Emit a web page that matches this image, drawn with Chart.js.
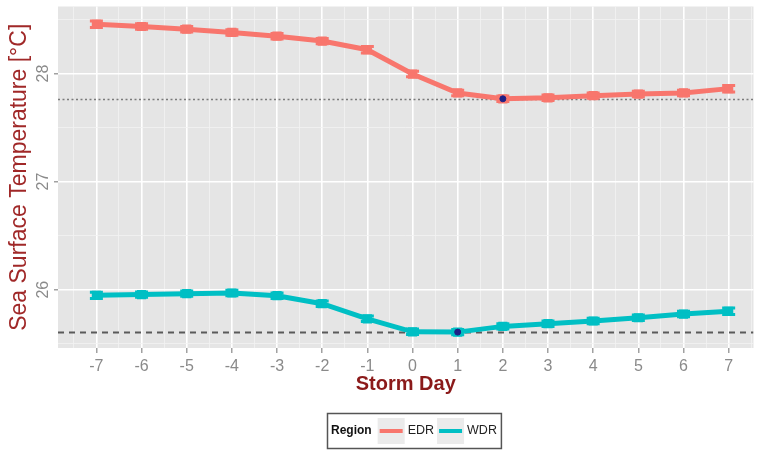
<!DOCTYPE html>
<html><head><meta charset="utf-8">
<script src="https://cdn.jsdelivr.net/npm/chart.js@4"></script>
<style>html,body{margin:0;padding:0;background:#fff}#wrap{width:760px;height:450px;position:relative}</style>
</head><body><div id="wrap"><canvas id="c" width="760" height="450"></canvas></div>
<script>
// ---- data ----
const days = [-7,-6,-5,-4,-3,-2,-1,0,1,2,3,4,5,6,7];
const edr = [28.455,28.435,28.41,28.38,28.345,28.30,28.22,27.995,27.82,27.766,27.775,27.795,27.81,27.82,27.86];
const wdr = [25.947,25.954,25.963,25.969,25.944,25.87,25.73,25.61,25.607,25.66,25.685,25.71,25.74,25.774,25.80];
const edrErr = [0.03,0.025,0.025,0.025,0.025,0.025,0.03,0.025,0.025,0.025,0.025,0.025,0.025,0.025,0.03];
const wdrErr = [0.03,0.025,0.025,0.025,0.025,0.025,0.025,0.025,0.025,0.025,0.025,0.025,0.025,0.025,0.03];
const seriesNames = ['EDR','WDR'];
const xTicks = [-7,-6,-5,-4,-3,-2,-1,0,1,2,3,4,5,6,7];
const yTicks = [26,27,28];
const legendTitle = 'Region';
const xTitle = 'Storm Day';
const yTitle = 'Sea Surface Temperature [°C]';

// ---- styles ----
const colors = ['#F8766D','#00BFC4'];
const FONT = '"Liberation Sans", Arial, Helvetica, sans-serif';
const minOf = a => Math.min(...a);
const argMin = a => a.indexOf(minOf(a));
const refLevels = [minOf(edr), minOf(wdr)];
const errs = [edrErr, wdrErr];

function lineDs(i, vals){
  return {
    type:'line', label: seriesNames[i],
    data: days.map((d,k)=>({x:d,y:vals[k]})),
    borderColor: colors[i], backgroundColor: colors[i],
    borderWidth: 5, pointStyle:'rect', pointRadius: 6.5, pointBorderWidth: 0,
    pointHoverRadius: 6.5, tension: 0, order: 1, errIndex: i
  };
}
const minDs = {
  type:'scatter', label:'min',
  data: [{x:days[argMin(edr)], y:minOf(edr)},{x:days[argMin(wdr)], y:minOf(wdr)}],
  backgroundColor:'#1f1f85', borderColor:'#1f1f85', pointRadius:3, order:0, isMin:true
};

const panelBg = {
  id:'panelBg',
  beforeDraw(chart){
    const {ctx, chartArea:a} = chart;
    ctx.save(); ctx.fillStyle = '#E5E5E5';
    ctx.fillRect(a.left, a.top, a.right-a.left, a.bottom-a.top);
    ctx.restore();
  },
  beforeDatasetsDraw(chart){
    const {ctx, chartArea:a, scales:{y}} = chart;
    ctx.save();
    ctx.beginPath(); ctx.rect(a.left,a.top,a.right-a.left,a.bottom-a.top); ctx.clip();
    const styles = [{dash:[2,2.5], w:1.6, c:'#7a7a7a'},{dash:[6,5], w:2, c:'#5a5a5a'}];
    refLevels.forEach((v,i)=>{
      const py = Math.round(y.getPixelForValue(v))+0.5;
      ctx.setLineDash(styles[i].dash); ctx.lineWidth = styles[i].w; ctx.strokeStyle = styles[i].c;
      ctx.beginPath(); ctx.moveTo(a.left, py); ctx.lineTo(a.right, py); ctx.stroke();
    });
    ctx.restore();
  },
  afterDatasetDraw(chart, args){
    const ds = chart.data.datasets[args.index];
    if (ds.errIndex === undefined) return;
    const {ctx, scales:{x,y}} = chart;
    const e = errs[ds.errIndex];
    ctx.save(); ctx.strokeStyle = colors[ds.errIndex]; ctx.lineCap='butt';
    ds.data.forEach((p,k)=>{
      const px = x.getPixelForValue(p.x);
      const y1 = y.getPixelForValue(p.y + e[k]), y2 = y.getPixelForValue(p.y - e[k]);
      ctx.lineWidth = 4;
      ctx.beginPath(); ctx.moveTo(px, y1); ctx.lineTo(px, y2); ctx.stroke();
      ctx.lineWidth = 3;
      ctx.beginPath(); ctx.moveTo(px-6.5, y1); ctx.lineTo(px+6.5, y1);
      ctx.moveTo(px-6.5, y2); ctx.lineTo(px+6.5, y2); ctx.stroke();
    });
    ctx.restore();
  },
  afterDraw(chart){
    const {ctx, scales:{y}} = chart;
    ctx.save();
    // rotated y tick labels
    ctx.fillStyle = '#8a8a8a'; ctx.font = '16px ' + FONT;
    ctx.textAlign = 'center'; ctx.textBaseline = 'middle';
    yTicks.forEach(v=>{
      ctx.save(); ctx.translate(44, y.getPixelForValue(v)); ctx.rotate(-Math.PI/2);
      ctx.fillText(String(v), 0, 0); ctx.restore();
    });
    // legend
    const cy = 431;
    ctx.textBaseline = 'middle'; ctx.textAlign = 'left';
    ctx.font = 'bold 12px ' + FONT;
    const tW = ctx.measureText(legendTitle).width;
    ctx.font = '12.5px ' + FONT;
    const labW = seriesNames.map(s=>ctx.measureText(s).width);
    const keyW = 27, pad = 4;
    const total = pad + tW + 6 + keyW + 3 + labW[0] + 3 + keyW + 3 + labW[1] + pad;
    let x0 = Math.round(413.5 - total/2);
    ctx.strokeStyle = '#555'; ctx.lineWidth = 1.5;
    ctx.strokeRect(x0+0.5, 413.5, total, 35);
    let cx = x0 + pad;
    ctx.fillStyle = '#111'; ctx.font = 'bold 12px ' + FONT;
    ctx.fillText(legendTitle, cx, cy); cx += tW + 6;
    seriesNames.forEach((s,i)=>{
      ctx.fillStyle = '#ebebeb'; ctx.fillRect(cx, 418, keyW, 26);
      ctx.strokeStyle = colors[i]; ctx.lineWidth = 4; ctx.setLineDash([]);
      ctx.beginPath(); ctx.moveTo(cx+2, cy); ctx.lineTo(cx+keyW-2, cy); ctx.stroke();
      cx += keyW + 3;
      ctx.fillStyle = '#222'; ctx.font = '12.5px ' + FONT;
      ctx.fillText(s, cx, cy); cx += labW[i] + 3;
    });
    ctx.restore();
  }
};

const minorX = []; for (let v=-7.5; v<=7.5; v+=1) minorX.push(v);
const minorY = [25.5,26.5,27.5,28.5];

new Chart(document.getElementById('c'), {
  data: { datasets: [lineDs(0, edr), lineDs(1, wdr), minDs] },
  options: {
    responsive:false, animation:false, events:[],
    layout:{ padding:{ top:6, right:2, left:0, bottom:50 } },
    plugins:{ legend:{display:false}, tooltip:{enabled:false} },
    scales:{
      x:{
        type:'linear', min:-7.85, max:7.55,
        afterBuildTicks(s){ s.ticks = xTicks.concat(minorX).sort((a,b)=>a-b).map(v=>({value:v})); },
        afterFit(s){ s.height = 52; },
        border:{display:false},
        grid:{
          color: c => Number.isInteger(c.tick.value) ? '#ffffff' : '#f2f2f2',
          lineWidth: c => Number.isInteger(c.tick.value) ? 1.6 : 0.8,
          tickColor: c => Number.isInteger(c.tick.value) ? '#8a8a8a' : 'rgba(0,0,0,0)',
          tickLength: 5, tickWidth: 1.2
        },
        ticks:{
          autoSkip:false, maxRotation:0, padding:4, color:'#8a8a8a',
          font:{family:FONT, size:16},
          callback: v => Number.isInteger(v) ? String(v) : ''
        },
        title:{ display:true, text:xTitle, color:'#8b1a1a', padding:{top:0,bottom:4},
          font:{family:FONT, size:20, weight:'bold'} }
      },
      y:{
        type:'linear', min:25.46, max:28.62,
        afterBuildTicks(s){ s.ticks = yTicks.concat(minorY).sort((a,b)=>a-b).map(v=>({value:v})); },
        afterFit(s){ s.width = 58; },
        border:{display:false},
        grid:{
          color: c => Number.isInteger(c.tick.value) ? '#ffffff' : '#f2f2f2',
          lineWidth: c => Number.isInteger(c.tick.value) ? 1.6 : 0.8,
          tickColor: c => Number.isInteger(c.tick.value) ? '#8a8a8a' : 'rgba(0,0,0,0)',
          tickLength: 4, tickWidth: 1.2
        },
        ticks:{ display:false },
        title:{ display:true, text:yTitle, color:'#a02828', padding:{top:6,bottom:0},
          font:{family:FONT, size:23} }
      }
    }
  },
  plugins:[panelBg]
});
</script></body></html>
